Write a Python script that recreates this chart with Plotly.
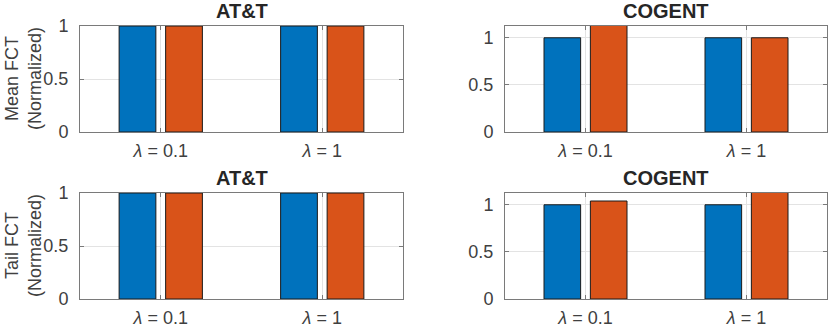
import plotly.graph_objects as go

# %% Data
lambdas = [1, 2]
lambda_labels = ["<i>λ</i> = 0.1", "<i>λ</i> = 1"]
networks = ["AT&T", "COGENT"]
row_titles = ["Mean FCT<br>(Normalized)", "Tail FCT<br>(Normalized)"]

# normalized FCT per network, per metric (values above the y-limit are clipped)
att_mean_a = [1.0, 1.0]
att_mean_b = [1.0, 1.0]
cogent_mean_a = [1.0, 1.0]
cogent_mean_b = [1.15, 1.0]
att_tail_a = [1.0, 1.0]
att_tail_b = [1.0, 1.0]
cogent_tail_a = [1.0, 1.0]
cogent_tail_b = [1.04, 1.15]

y_max = [1.0, 1.125]  # y-limit for AT&T, COGENT
y_ticks = [0, 0.5, 1]

# %% Style
blue = "#0072BD"
orange = "#D95319"
axis_col = "#7a7a7a"
grid_col = "#e3e3e3"
text_col = "#404040"
font_name = "Liberation Sans, Arial, sans-serif"

W, H = 831, 328
# panel boxes in pixels (left, right, top, bottom)
col_px = [(80, 403), (505, 827)]
row_px = [(26, 132), (193, 299)]

panels = [
    (att_mean_a, att_mean_b, 0, 0),
    (cogent_mean_a, cogent_mean_b, 0, 1),
    (att_tail_a, att_tail_b, 1, 0),
    (cogent_tail_a, cogent_tail_b, 1, 1),
]

fig = go.Figure()
layout_axes = {}
annotations = []

for i, (ya, yb, r, c) in enumerate(panels):
    n = "" if i == 0 else str(i + 1)
    for vals, col in [(ya, blue), (yb, orange)]:
        fig.add_trace(go.Bar(
            x=lambdas, y=vals,
            marker=dict(color=col, line=dict(color="#1a1a1a", width=1)),
            xaxis="x" + n, yaxis="y" + n,
            showlegend=False,
        ))
    x0, x1 = col_px[c]
    t, b = row_px[r]
    layout_axes["xaxis" + n] = dict(
        domain=[x0 / W, x1 / W], anchor="y" + n,
        range=[0.5, 2.5], tickvals=lambdas, ticktext=lambda_labels,
        showgrid=True, gridcolor=grid_col, gridwidth=1,
        showline=True, linecolor=axis_col, linewidth=1, mirror="ticks",
        ticks="inside", ticklen=4, tickcolor=axis_col,
        zeroline=False, ticklabelstandoff=2, automargin=False,
        tickfont=dict(size=18),
    )
    layout_axes["yaxis" + n] = dict(
        domain=[(H - b) / H, (H - t) / H], anchor="x" + n,
        range=[0, y_max[c]], tickvals=y_ticks, ticktext=["0", "0.5", "1"],
        showgrid=True, gridcolor=grid_col, gridwidth=1,
        showline=True, linecolor=axis_col, linewidth=1, mirror="ticks",
        ticks="inside", ticklen=4, tickcolor=axis_col,
        zeroline=False, automargin=False, ticklabelstandoff=7,
        tickfont=dict(size=18),
    )
    # panel title
    annotations.append(dict(
        text="<b>" + networks[c] + "</b>", xref="paper", yref="paper",
        x=(x0 + x1) / 2 / W, y=(H - (t - 15)) / H,
        xanchor="center", yanchor="middle", showarrow=False,
        font=dict(size=20, color="#262626"),
    ))

for r, txt in enumerate(row_titles):
    t, b = row_px[r]
    annotations.append(dict(
        text=txt, xref="paper", yref="paper",
        x=23 / W, y=(H - (t + b) / 2) / H,
        xanchor="center", yanchor="middle", textangle=-90, showarrow=False,
        font=dict(size=18, color=text_col),
    ))

fig.update_layout(
    width=W, height=H,
    margin=dict(l=0, r=0, t=0, b=0, autoexpand=False),
    paper_bgcolor="white", plot_bgcolor="white",
    barmode="group", bargap=0.424, bargroupgap=0.21,
    font=dict(family=font_name, size=16, color=text_col),
    annotations=annotations,
    **layout_axes,
)

fig.write_html("out.html", config={"displayModeBar": False},
               post_script="document.body.style.margin='0';document.body.style.overflow='hidden';")
